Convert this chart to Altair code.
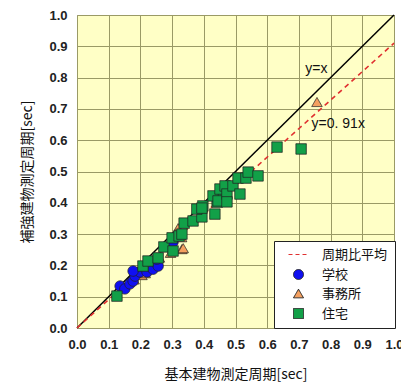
import altair as alt
import pandas as pd

# Measured natural periods [sec]: base building (x) vs. retrofitted building (y)
school_x = [0.136, 0.151, 0.167, 0.177, 0.183, 0.199, 0.221, 0.240, 0.256, 0.252, 0.177, 0.303]
school_y = [0.134, 0.125, 0.141, 0.150, 0.166, 0.179, 0.179, 0.188, 0.198, 0.220, 0.182, 0.275]

office_x = [0.757, 0.205, 0.180, 0.215, 0.260, 0.295, 0.331, 0.319, 0.330, 0.335, 0.310]
office_y = [0.722, 0.169, 0.155, 0.175, 0.225, 0.240, 0.252, 0.319, 0.290, 0.255, 0.300]

house_x = [0.126, 0.208, 0.224, 0.256, 0.274, 0.303, 0.300, 0.322, 0.338, 0.366,
           0.394, 0.378, 0.397, 0.331, 0.394, 0.435, 0.442, 0.457, 0.429, 0.445,
           0.451, 0.467, 0.473, 0.473, 0.492, 0.514, 0.508, 0.533, 0.540, 0.571,
           0.631, 0.707]
house_y = [0.102, 0.198, 0.214, 0.224, 0.259, 0.246, 0.288, 0.294, 0.335, 0.342,
           0.355, 0.380, 0.390, 0.300, 0.383, 0.364, 0.402, 0.422, 0.422, 0.406,
           0.444, 0.454, 0.428, 0.403, 0.454, 0.428, 0.479, 0.479, 0.498, 0.486,
           0.578, 0.572]

line_label = "周期比平均"
categories = [line_label, "学校", "事務所", "住宅"]
cat_fills = ["#e03030", "#1010f0", "#f4a060", "#12a048"]
cat_strokes = ["#e03030", "#222222", "#222222", "#222222"]
cat_dashes = [[4, 3], [1, 0], [1, 0], [1, 0]]
cat_shapes = ["M-2,0H2", "circle", "triangle-up", "square"]

ratio = 0.91
line_x = [0.0, 1.0]

ticks = [round(i * 0.1, 1) for i in range(11)]

FONT = "Noto Sans CJK JP"
NUM_FONT = "Liberation Sans"

points = pd.DataFrame(
    [{"x": x, "y": y, "type": "事務所", "order": 0} for x, y in zip(office_x, office_y)]
    + [{"x": x, "y": y, "type": "学校", "order": 1} for x, y in zip(school_x, school_y)]
    + [{"x": x, "y": y, "type": "住宅", "order": 2} for x, y in zip(house_x, house_y)]
)

lines = pd.DataFrame({"x": line_x, "y1": line_x, "y2": [ratio * v for v in line_x]})

x_scale = alt.Scale(domain=[0, 1], nice=False)
y_scale = alt.Scale(domain=[0, 1], nice=False)

axis_style = dict(values=ticks, format=".1f", titleFont=FONT, titleFontSize=14,
                  titleFontWeight="normal", titleColor="#111",
                  labelFont=NUM_FONT, labelFontSize=13, labelFontWeight="bold",
                  labelColor="#222", labelFlush=False, ticks=False, domain=False,
                  gridColor="#9a9a66", gridOpacity=1)
x_axis = alt.Axis(title="基本建物測定周期[sec]", titlePadding=16, labelPadding=10,
                  **axis_style)
y_axis = alt.Axis(title="補強建物測定周期[sec]", titlePadding=14, labelPadding=10,
                  **axis_style)

legend = alt.Legend(
    title=None, orient="none", legendX=197, legendY=226,
    fillColor="white", strokeColor="#222", padding=7, cornerRadius=0,
    labelFont=FONT, labelFontSize=13, labelColor="#111",
    symbolOffset=11, labelOffset=17, rowPadding=5, symbolSize=100,
    symbolStrokeWidth=1,
)


def cat_scale(rng):
    return alt.Scale(domain=categories, range=rng)


X = alt.X("x:Q", scale=x_scale, axis=x_axis)

identity = alt.Chart(lines).mark_line(color="black", strokeWidth=1.5).encode(
    x=X, y=alt.Y("y1:Q", scale=y_scale, axis=y_axis)
)
mean_line = alt.Chart(lines).mark_line(
    color="#e03030", strokeWidth=1.6, strokeDash=[5, 4]
).encode(x=X, y=alt.Y("y2:Q", scale=y_scale, axis=y_axis))

pts = alt.Chart(points).mark_point(filled=True, opacity=1, size=110,
                                   strokeWidth=0.8).encode(
    x=X,
    y=alt.Y("y:Q", scale=y_scale, axis=y_axis),
    fill=alt.Fill("type:N", scale=cat_scale(cat_fills), legend=legend),
    stroke=alt.Stroke("type:N", scale=cat_scale(cat_strokes), legend=legend),
    strokeDash=alt.StrokeDash("type:N", scale=cat_scale(cat_dashes), legend=legend),
    shape=alt.Shape("type:N", scale=cat_scale(cat_shapes), legend=legend),
    order=alt.Order("order:Q"),
)

labels = pd.DataFrame({"x": [0.72, 0.74], "y": [0.827, 0.652],
                       "text": ["y=x", "y=0. 91x"]})
text = alt.Chart(labels).mark_text(align="left", baseline="middle", font=NUM_FONT,
                                   fontSize=14, color="#111").encode(
    x=alt.X("x:Q", scale=x_scale, axis=x_axis),
    y=alt.Y("y:Q", scale=y_scale, axis=y_axis),
    text="text:N",
)

chart = alt.layer(identity, mean_line, pts, text).properties(
    width=317, height=313,
    padding={"left": 77, "top": 15, "right": 7, "bottom": 55},
    autosize=alt.AutoSizeParams(type="none"),
    background="white",
).configure_view(
    fill="#ffffc6", stroke="#888", strokeWidth=1
)

chart.save("out.html", embed_options={"renderer": "svg", "actions": False})
